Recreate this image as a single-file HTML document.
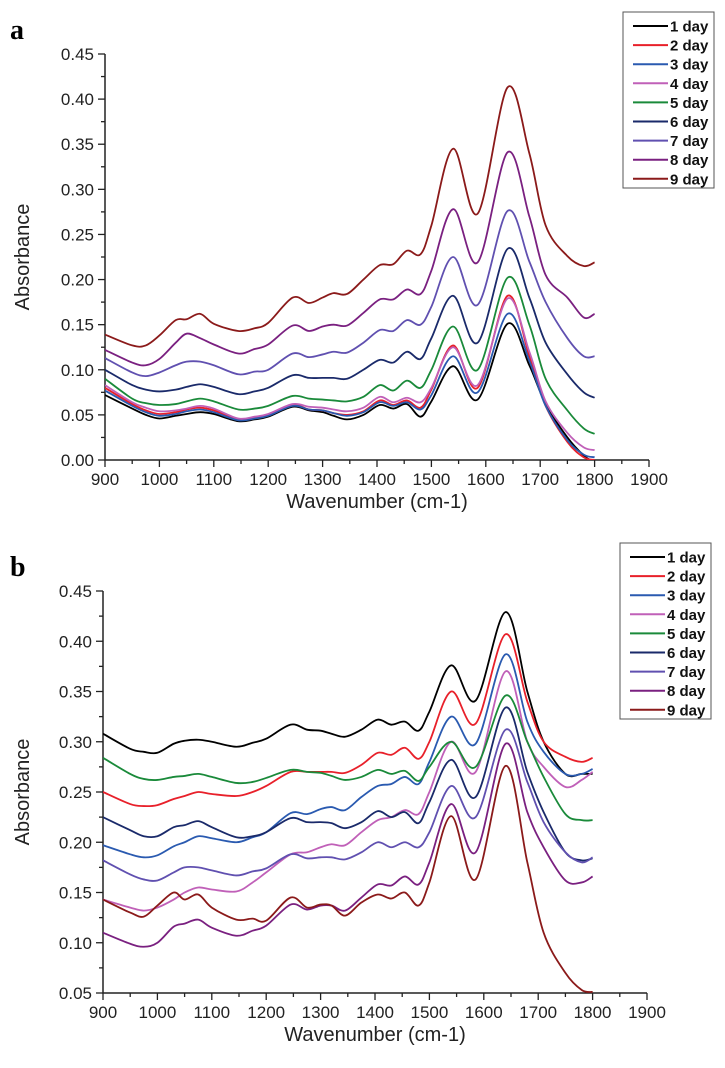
<!DOCTYPE html>
<html><head><meta charset="utf-8"><style>
body{margin:0;background:#fff}
svg{display:block;font-family:"Liberation Sans",Arial,sans-serif}
</style></head><body>
<svg id="fig" width="725" height="1068" viewBox="0 0 725 1068"></svg>
<script>
const wavenumbers=[900,950,975,1000,1030,1050,1075,1100,1145,1175,1200,1245,1275,1300,1320,1345,1375,1405,1430,1455,1480,1500,1540,1585,1640,1680,1710,1750,1780,1800];
const seriesNames=["1 day","2 day","3 day","4 day","5 day","6 day","7 day","8 day","9 day"];
const seriesColors=["#000000","#e8202a","#2a5ab0","#c060b8","#1a8a3a","#1a2a6a","#6050b0","#7a2080","#8b1a1a"];
const yTicksA=[0,0.05,0.1,0.15,0.2,0.25,0.3,0.35,0.4,0.45];
const yTicksB=[0.05,0.1,0.15,0.2,0.25,0.3,0.35,0.4,0.45];
const xTicks=[900,1000,1100,1200,1300,1400,1500,1600,1700,1800,1900];
const a1=[0.072,0.057,0.05,0.046,0.049,0.051,0.053,0.051,0.043,0.045,0.048,0.059,0.055,0.053,0.049,0.045,0.05,0.061,0.057,0.062,0.048,0.065,0.104,0.067,0.151,0.105,0.062,0.025,0.005,-0.003];
const a2=[0.08,0.062,0.055,0.051,0.053,0.056,0.058,0.055,0.045,0.047,0.05,0.061,0.056,0.055,0.052,0.05,0.054,0.066,0.061,0.066,0.058,0.078,0.127,0.08,0.182,0.115,0.06,0.02,0.003,0.0];
const a3=[0.077,0.06,0.053,0.049,0.051,0.054,0.056,0.053,0.044,0.046,0.049,0.06,0.056,0.055,0.052,0.049,0.053,0.064,0.06,0.064,0.056,0.072,0.115,0.075,0.162,0.11,0.06,0.022,0.006,0.003];
const a4=[0.083,0.064,0.058,0.054,0.055,0.057,0.06,0.057,0.046,0.048,0.051,0.062,0.059,0.058,0.056,0.054,0.058,0.07,0.064,0.069,0.064,0.08,0.125,0.083,0.179,0.12,0.065,0.03,0.014,0.011];
const a5=[0.09,0.068,0.063,0.061,0.062,0.065,0.068,0.065,0.056,0.057,0.06,0.071,0.068,0.067,0.066,0.065,0.07,0.083,0.077,0.088,0.08,0.1,0.148,0.1,0.202,0.15,0.09,0.055,0.035,0.029];
const a6=[0.1,0.083,0.078,0.076,0.078,0.081,0.084,0.081,0.073,0.076,0.08,0.094,0.091,0.091,0.091,0.09,0.1,0.111,0.108,0.12,0.112,0.135,0.182,0.13,0.234,0.18,0.13,0.095,0.075,0.069];
const a7=[0.113,0.097,0.093,0.097,0.105,0.109,0.109,0.105,0.095,0.098,0.1,0.118,0.114,0.117,0.12,0.119,0.13,0.144,0.143,0.155,0.15,0.17,0.225,0.172,0.276,0.22,0.175,0.135,0.115,0.115];
const a8=[0.122,0.108,0.105,0.112,0.13,0.14,0.135,0.128,0.118,0.123,0.128,0.149,0.143,0.148,0.15,0.149,0.163,0.178,0.178,0.189,0.184,0.21,0.278,0.219,0.341,0.27,0.205,0.18,0.158,0.162];
const a9=[0.139,0.127,0.127,0.138,0.155,0.156,0.162,0.151,0.143,0.146,0.152,0.18,0.174,0.18,0.185,0.184,0.2,0.216,0.217,0.232,0.228,0.26,0.345,0.273,0.413,0.34,0.26,0.226,0.215,0.219];
const b1=[0.308,0.293,0.29,0.289,0.298,0.301,0.302,0.3,0.295,0.299,0.303,0.317,0.312,0.311,0.308,0.305,0.312,0.322,0.317,0.32,0.311,0.33,0.376,0.341,0.429,0.35,0.3,0.268,0.268,0.268];
const b2=[0.25,0.238,0.236,0.237,0.243,0.246,0.25,0.248,0.246,0.25,0.256,0.27,0.27,0.27,0.27,0.269,0.277,0.289,0.287,0.294,0.283,0.3,0.35,0.318,0.407,0.34,0.3,0.285,0.28,0.284];
const b3=[0.197,0.188,0.185,0.187,0.196,0.2,0.206,0.204,0.2,0.205,0.21,0.229,0.228,0.233,0.235,0.232,0.245,0.256,0.258,0.265,0.258,0.28,0.325,0.298,0.387,0.32,0.29,0.268,0.268,0.273];
const b4=[0.143,0.135,0.132,0.135,0.143,0.15,0.155,0.153,0.151,0.16,0.17,0.188,0.19,0.195,0.198,0.197,0.21,0.222,0.225,0.232,0.228,0.25,0.3,0.27,0.37,0.3,0.275,0.255,0.262,0.27];
const b5=[0.284,0.268,0.263,0.262,0.265,0.266,0.268,0.265,0.259,0.26,0.264,0.272,0.27,0.269,0.266,0.262,0.265,0.272,0.268,0.271,0.261,0.275,0.3,0.275,0.346,0.3,0.265,0.228,0.222,0.222];
const b6=[0.225,0.212,0.206,0.206,0.215,0.217,0.221,0.215,0.205,0.206,0.21,0.224,0.22,0.22,0.219,0.214,0.22,0.231,0.225,0.23,0.219,0.24,0.282,0.245,0.334,0.27,0.23,0.19,0.182,0.184];
const b7=[0.182,0.168,0.163,0.162,0.17,0.175,0.175,0.172,0.167,0.171,0.174,0.188,0.184,0.185,0.185,0.183,0.19,0.2,0.195,0.2,0.195,0.21,0.256,0.225,0.312,0.26,0.22,0.19,0.18,0.185];
const b8=[0.11,0.099,0.096,0.1,0.116,0.119,0.123,0.115,0.107,0.112,0.117,0.138,0.133,0.137,0.137,0.132,0.145,0.158,0.157,0.166,0.158,0.18,0.238,0.19,0.298,0.23,0.195,0.162,0.16,0.166];
const b9=[0.143,0.13,0.126,0.137,0.15,0.143,0.148,0.135,0.123,0.124,0.122,0.145,0.135,0.138,0.137,0.127,0.14,0.148,0.144,0.15,0.137,0.16,0.226,0.163,0.276,0.18,0.11,0.07,0.053,0.051];

const NS="http://www.w3.org/2000/svg";
const svg=document.getElementById('fig');
function mk(tag,attrs,parent,text){const e=document.createElementNS(NS,tag);for(const k in attrs)e.setAttribute(k,attrs[k]);if(text!==undefined)e.textContent=text;(parent||svg).appendChild(e);return e;}

function panel(cfg){
  const g=mk('g',{});
  
  
  const X=v=>cfg.x0+(v-900)/1000*(cfg.x1-cfg.x0);
  const Y=v=>cfg.y0-(v-cfg.ymin)/(cfg.ymax-cfg.ymin)*(cfg.y0-cfg.y1);
  const cp=mk('clipPath',{id:'clip'+cfg.id},g);
  mk('rect',{x:cfg.x0,y:cfg.y1-5,width:cfg.x1-cfg.x0,height:cfg.y0-cfg.y1+5},cp);
  const lbl=mk('text',{x:10,y:cfg.y1-15,'font-family':'"Liberation Serif",serif','font-weight':'bold','font-size':28},g,cfg.id);
  
  
  const ax=mk('path',{d:`M${cfg.x0},${cfg.y1}V${cfg.y0}H${cfg.x1}`,stroke:'#222',fill:'none','stroke-width':1.5},g);
  
  
  for(let v=900;v<=1900;v+=50){const maj=(v%100===0);mk('line',{x1:X(v),x2:X(v),y1:cfg.y0,y2:cfg.y0+(maj?7:4),stroke:'#222','stroke-width':1.3},g);}
  xTicks.forEach(v=>{const t=mk('text',{x:X(v),y:cfg.y0+25,'text-anchor':'middle','font-size':17,fill:'#222'},g,String(v));
    
    });
  for(let v=cfg.ymin;v<=cfg.ymax+1e-9;v+=0.025){const maj=Math.abs((v/0.05)-Math.round(v/0.05))<1e-6;mk('line',{x1:cfg.x0,x2:cfg.x0-(maj?7:4),y1:Y(v),y2:Y(v),stroke:'#222','stroke-width':1.3},g);}
  cfg.yt.forEach(v=>{const t=mk('text',{x:cfg.x0-11,y:Y(v)+6,'text-anchor':'end','font-size':17,fill:'#222'},g,v.toFixed(2));
    
    });
  const xt=mk('text',{x:(cfg.x0+cfg.x1)/2,y:cfg.y0+48,'text-anchor':'middle','font-size':20,fill:'#222'},g,'Wavenumber (cm-1)');
  
  
  const ym=(cfg.y0+cfg.y1)/2;
  const yt=mk('text',{x:0,y:0,transform:`translate(29,${ym}) rotate(-90)`,'text-anchor':'middle','font-size':20,fill:'#222'},g,'Absorbance');
  
  
  cfg.data.forEach((arr,i)=>{
    const pts=arr.map((v,j)=>[X(wavenumbers[j]),Y(v)]);
    let d=`M${pts[0][0]},${pts[0][1]}`;
    for(let j=0;j<pts.length-1;j++){
      const p0=pts[Math.max(0,j-1)],p1=pts[j],p2=pts[j+1],p3=pts[Math.min(pts.length-1,j+2)];
      const c1=[p1[0]+(p2[0]-p0[0])/6,p1[1]+(p2[1]-p0[1])/6];
      const c2=[p2[0]-(p3[0]-p1[0])/6,p2[1]-(p3[1]-p1[1])/6];
      d+=`C${c1[0]},${c1[1]} ${c2[0]},${c2[1]} ${p2[0]},${p2[1]}`;
    }
    const p=mk('path',{d,fill:'none',stroke:seriesColors[i],'stroke-width':1.8,'clip-path':`url(#clip${cfg.id})`},g);
    
    
  });
  const lg=mk('g',{},g);
  
  
  mk('rect',{x:cfg.lx,y:cfg.ly,width:91,height:176,fill:'#fff',stroke:'#555','stroke-width':1},lg);
  seriesNames.forEach((n,i)=>{
    const yy=cfg.ly+14+i*19.1;
    const e=mk('g',{},lg);
    
    
    mk('line',{x1:cfg.lx+10,x2:cfg.lx+45,y1:yy,y2:yy,stroke:seriesColors[i],'stroke-width':2},e);
    mk('text',{x:cfg.lx+47,y:yy+5.5,'font-size':15,'font-weight':'bold',fill:'#111'},e,n);
  });
}
panel({id:'a',x0:105,x1:649,y0:460,y1:54,ymin:0,ymax:0.45,yt:yTicksA,data:[a1,a2,a3,a4,a5,a6,a7,a8,a9],lx:623,ly:12});
panel({id:'b',x0:103,x1:647,y0:993,y1:591,ymin:0.05,ymax:0.45,yt:yTicksB,data:[b1,b2,b3,b4,b5,b6,b7,b8,b9],lx:620,ly:543});
</script>
</body></html>
